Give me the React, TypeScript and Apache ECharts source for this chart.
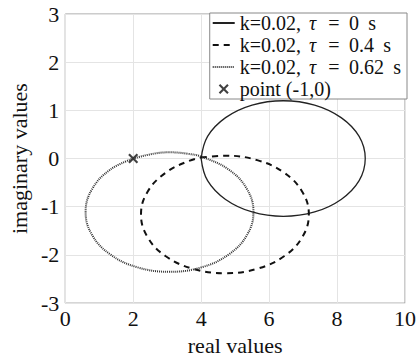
import React, { useEffect, useRef } from "react";
import * as echarts from "echarts";

const xTicks = [0, 2, 4, 6, 8, 10];
const yTicks = [-3, -2, -1, 0, 1, 2, 3];

const legendNames = ["k=0.02, τ = 0 s", "k=0.02, τ = 0.4 s", "k=0.02, τ = 0.62 s", "point (-1,0)"];

const curveTau0: [number, number][] = [
  [4.0, 0], [4.19, -0.459], [4.72, -0.849], [5.5, -1.109], [6.42, -1.2], [7.34, -1.109],
  [8.12, -0.849], [8.65, -0.459], [8.83, 0], [8.65, 0.459], [8.12, 0.849], [7.34, 1.109],
  [6.42, 1.2], [5.5, 1.109], [4.72, 0.849], [4.19, 0.459], [4.0, 0],
];

const curveTau04: [number, number][] = [
  [4.0, 0.02], [4.7, 0.06], [5.65, -0.033], [6.45, -0.297], [6.98, -0.693], [7.17, -1.16],
  [6.98, -1.627], [6.45, -2.023], [5.65, -2.287], [4.7, -2.38], [3.76, -2.287], [2.95, -2.023],
  [2.42, -1.627], [2.23, -1.16], [2.42, -0.693], [2.95, -0.297], [3.6, -0.06], [4.0, 0.02],
];

const curveTau062: [number, number][] = [
  [2.0, 0.0], [2.6, 0.1], [3.07, 0.13], [3.6, 0.1], [4.02, 0.036], [4.82, -0.233], [5.35, -0.635],
  [5.54, -1.11], [5.35, -1.585], [4.82, -1.987], [4.02, -2.256], [3.07, -2.35], [2.12, -2.256],
  [1.32, -1.987], [0.79, -1.585], [0.6, -1.11], [0.79, -0.635], [1.32, -0.233], [2.0, 0.0],
];

const crossPoint: [number, number][] = [[2, 0]];
const circlePoint: [number, number][] = [[4, 0]];

const FONT = "'Liberation Serif', 'Times New Roman', serif";
const crossPath =
  "path://M0,1.5 L1.5,0 L5,3.5 L8.5,0 L10,1.5 L6.5,5 L10,8.5 L8.5,10 L5,6.5 L1.5,10 L0,8.5 L3.5,5 Z";

export default function App() {
  const ref = useRef<HTMLDivElement>(null);
  useEffect(() => {
    if (!ref.current) return;
    const chart = echarts.init(ref.current, null, { renderer: "svg" });
    const fmt = (name: string) => {
      const i = name.indexOf("τ");
      if (i < 0) return "{n|" + name + "}";
      const head = name.slice(0, i);
      const parts = name.slice(i + 1).trim().split(" "); // ["=", "0.62", "s"]
      return "{n|" + head + "}{i|τ}{e|" + parts[0] + "}{n|" + parts[1] + "}{s|" + parts[2] + "}";
    };
    const lineLegend = (name: string) => ({ name, itemStyle: { opacity: 0 } });
    const base = { fontFamily: FONT, fontSize: 20, lineHeight: 20, color: "#111" };
    chart.setOption({
      animation: false,
      backgroundColor: "#fff",
      textStyle: { fontFamily: FONT },
      grid: {
        left: 61,
        right: 11,
        top: 14,
        bottom: 46,
        show: true,
        borderColor: "#999",
        borderWidth: 1,
      },
      legend: {
        data: [
          lineLegend(legendNames[0]),
          lineLegend(legendNames[1]),
          lineLegend(legendNames[2]),
          { name: legendNames[3] },
        ],
        orient: "vertical",
        right: 12,
        top: 13,
        backgroundColor: "#fff",
        borderColor: "#888",
        borderWidth: 1,
        borderRadius: 0,
        padding: [0, 6, 0, 2],
        itemGap: 2,
        itemWidth: 22,
        itemHeight: 10,
        formatter: fmt,
        textStyle: {
          ...base,
          rich: {
            n: { ...base },
            i: { ...base, fontStyle: "italic", width: 13, align: "right" },
            e: { ...base, width: 30, align: "center" },
            s: { ...base, width: 17, align: "right" },
          },
        },
      },
      xAxis: {
        type: "value",
        min: 0,
        max: 10,
        interval: 2,
        name: "real values",
        nameLocation: "middle",
        nameGap: 27,
        nameTextStyle: { fontFamily: FONT, fontSize: 22, color: "#111" },
        axisLine: { show: false },
        axisTick: { show: false },
        axisLabel: { fontFamily: FONT, fontSize: 22, color: "#111", margin: 4 },
        splitLine: { show: true, lineStyle: { color: "#e4e4e4", width: 1 } },
      },
      yAxis: {
        type: "value",
        min: -3,
        max: 3,
        interval: 1,
        name: "imaginary values",
        nameLocation: "middle",
        nameGap: 34,
        nameTextStyle: { fontFamily: FONT, fontSize: 22, color: "#111" },
        axisLine: { show: false },
        axisTick: { show: false },
        axisLabel: { fontFamily: FONT, fontSize: 22, color: "#111", margin: 6 },
        splitLine: { show: true, lineStyle: { color: "#e4e4e4", width: 1 } },
      },
      series: [
        {
          name: legendNames[0],
          type: "line",
          data: curveTau0,
          smooth: 0.4,
          symbol: "none",
          lineStyle: { color: "#222", width: 1.3, type: "solid" },
          itemStyle: { color: "#222" },
        },
        {
          name: legendNames[1],
          type: "line",
          data: curveTau04,
          smooth: 0.4,
          symbol: "none",
          lineStyle: { color: "#111", width: 2, type: [6, 5] },
          itemStyle: { color: "#111" },
        },
        {
          name: legendNames[2],
          type: "line",
          data: curveTau062,
          smooth: 0.4,
          symbol: "none",
          lineStyle: { color: "#333", width: 2, type: [1, 1] },
          itemStyle: { color: "#333" },
        },
        {
          name: legendNames[3],
          type: "scatter",
          data: crossPoint,
          symbol: crossPath,
          symbolSize: 10,
          itemStyle: { color: "#111" },
        },
        {
          name: "origin",
          type: "scatter",
          data: circlePoint,
          symbol: "emptyCircle",
          symbolSize: 8,
          itemStyle: { color: "#fff", borderColor: "#111", borderWidth: 2 },
        },
      ],
    });
    return () => chart.dispose();
  }, []);
  return <div ref={ref} style={{ width: 419, height: 361, position: "absolute", left: 0, top: 0 }} />;
}
